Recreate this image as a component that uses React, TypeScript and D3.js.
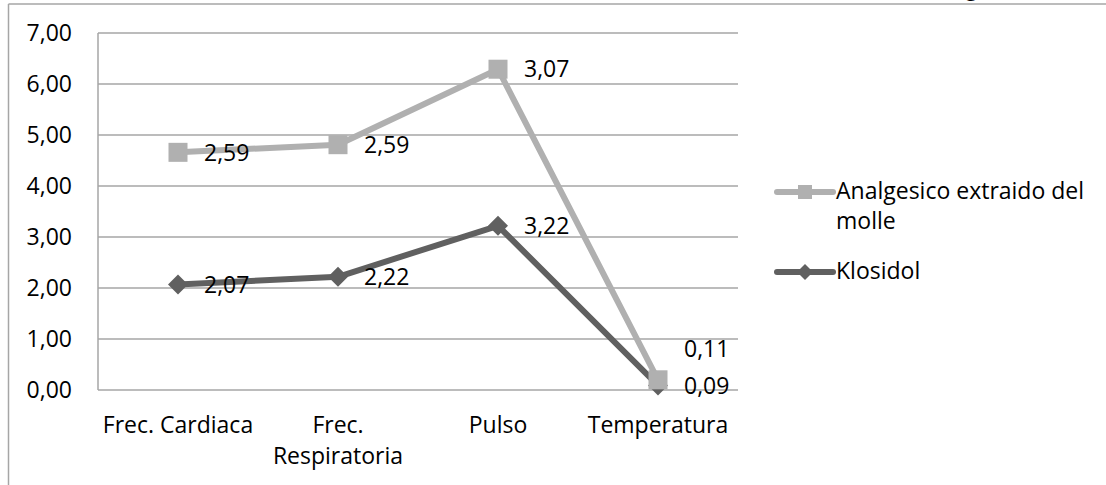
import React from "react";
import * as d3 from "d3";

const categories = ["Frec. Cardiaca", "Frec. Respiratoria", "Pulso", "Temperatura"];
const categoryLines = [["Frec. Cardiaca"], ["Frec.", "Respiratoria"], ["Pulso"], ["Temperatura"]];
const klosidol = [2.07, 2.22, 3.22, 0.09];
const analgesico = [2.59, 2.59, 3.07, 0.11];
const yTicks = [0, 1, 2, 3, 4, 5, 6, 7];
const seriesNames = ["Analgesico extraido del", "molle"];
const seriesName2 = "Klosidol";

const W = 1106;
const H = 485;
const plot = { left: 98, right: 738, top: 33, bottom: 390 };
const LIGHT = "#b0b0b0";
const DARK = "#606060";
const GRID = "#a6a6a6";
const FONT = "'Open Sans', sans-serif";
const FS = 23;

const fmt = (v: number) => v.toFixed(2).replace(".", ",");

export default function App() {
  const x = d3
    .scaleBand<string>()
    .domain(categories)
    .range([plot.left, plot.right])
    .paddingInner(0)
    .paddingOuter(0);
  const y = d3.scaleLinear().domain([0, 7]).range([plot.bottom, plot.top]);
  const cx = (c: string) => (x(c) as number) + x.bandwidth() / 2;

  const stackedTop = analgesico.map((v, i) => v + klosidol[i]);

  const line = d3
    .line<[number, number]>()
    .x((d) => d[0])
    .y((d) => d[1]);

  const kPts: [number, number][] = categories.map((c, i) => [cx(c), y(klosidol[i])]);
  const aPts: [number, number][] = categories.map((c, i) => [cx(c), y(stackedTop[i])]);

  const kLabelY = kPts.map((p) => p[1]);
  const aLabelY = aPts.map((p, i) => (kLabelY[i] - p[1] < 30 ? kLabelY[i] - 37 : p[1]));

  const sq = 19;
  const dm = 10;
  const diamond = (px: number, py: number, r: number) =>
    `M${px},${py - r}L${px + r},${py}L${px},${py + r}L${px - r},${py}Z`;

  const legX1 = 777;
  const legX2 = 833;
  const legA = 192;
  const legK = 272;

  return (
    <svg
      width={W}
      height={H}
      style={{ position: "absolute", left: 0, top: 0, background: "#fff" }}
      fontFamily={FONT}
    >
      <rect x={0} y={0} width={W} height={H} fill="#fff" />
      <text x={965} y={-4} fontFamily="'Liberation Serif', serif" fontSize={24} fill="#000">
        g
      </text>
      {/* outer chart border */}
      <line x1={8.5} y1={4} x2={W} y2={4} stroke={GRID} strokeWidth={1.5} />
      <line x1={8.5} y1={4} x2={8.5} y2={H} stroke={GRID} strokeWidth={1.5} />

      {/* gridlines */}
      {yTicks.map((t) => (
        <line
          key={t}
          x1={plot.left}
          x2={plot.right}
          y1={y(t)}
          y2={y(t)}
          stroke={GRID}
          strokeWidth={1.5}
        />
      ))}
      <line x1={plot.left} x2={plot.left} y1={plot.top} y2={plot.bottom} stroke={GRID} strokeWidth={1.5} />

      {/* y labels */}
      {yTicks.map((t) => (
        <text key={t} x={72} y={y(t)} dy="0.36em" textAnchor="end" fontSize={FS} fill="#000">
          {fmt(t)}
        </text>
      ))}

      {/* x labels */}
      {categories.map((c, i) => (
        <text key={c} textAnchor="middle" fontSize={FS} fill="#000">
          {categoryLines[i].map((l, j) => (
            <tspan key={j} x={cx(c)} y={433 + j * 31}>
              {l}
            </tspan>
          ))}
        </text>
      ))}

      {/* series lines */}
      <path d={line(aPts) || ""} fill="none" stroke={LIGHT} strokeWidth={6} strokeLinejoin="round" />
      <path d={line(kPts) || ""} fill="none" stroke={DARK} strokeWidth={6} strokeLinejoin="round" />

      {/* markers */}
      {kPts.map((p, i) => (
        <path key={"k" + i} d={diamond(p[0], p[1], dm)} fill={DARK} />
      ))}
      {aPts.map((p, i) => (
        <rect key={"a" + i} x={p[0] - sq / 2} y={p[1] - sq / 2} width={sq} height={sq} fill={LIGHT} />
      ))}

      {/* data labels */}
      {kPts.map((p, i) => (
        <text key={"kl" + i} x={p[0] + 26} y={kLabelY[i]} dy="0.36em" fontSize={FS} fill="#000">
          {fmt(klosidol[i])}
        </text>
      ))}
      {aPts.map((p, i) => (
        <text key={"al" + i} x={p[0] + 26} y={aLabelY[i]} dy="0.36em" fontSize={FS} fill="#000">
          {fmt(analgesico[i])}
        </text>
      ))}

      {/* legend */}
      <line x1={legX1} x2={legX2} y1={legA} y2={legA} stroke={LIGHT} strokeWidth={6} strokeLinecap="round" />
      <rect x={(legX1 + legX2) / 2 - 7} y={legA - 7} width={14} height={14} fill={LIGHT} />
      <text x={836} y={199} fontSize={FS} fill="#000">
        {seriesNames[0]}
      </text>
      <text x={836} y={229} fontSize={FS} fill="#000">
        {seriesNames[1]}
      </text>
      <line x1={legX1} x2={legX2} y1={legK} y2={legK} stroke={DARK} strokeWidth={6} strokeLinecap="round" />
      <path d={diamond((legX1 + legX2) / 2, legK, 8)} fill={DARK} />
      <text x={836} y={279} fontSize={FS} fill="#000">
        {seriesName2}
      </text>
    </svg>
  );
}
